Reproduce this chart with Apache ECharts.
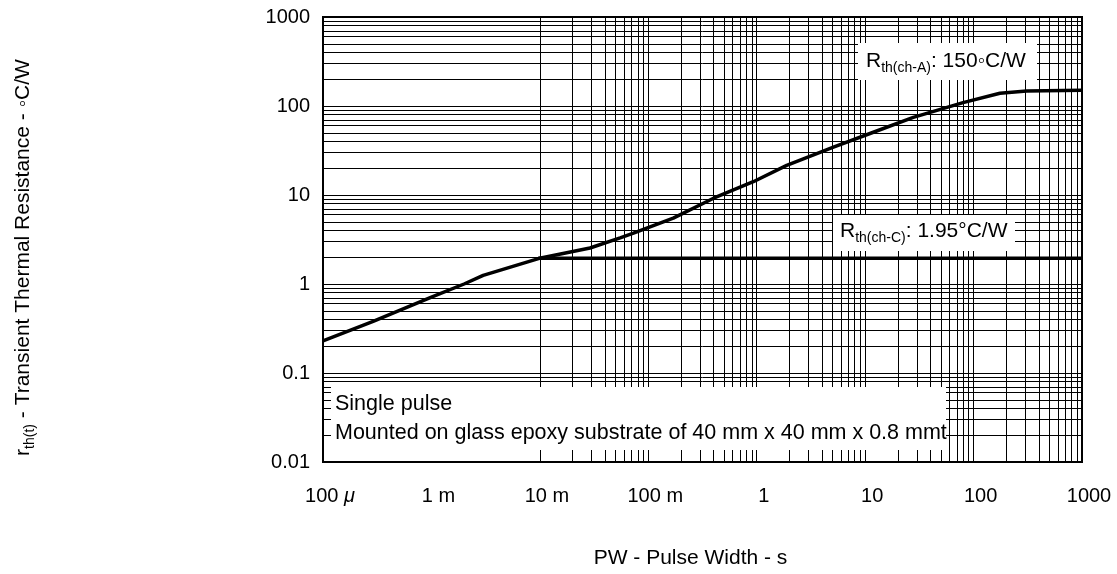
<!DOCTYPE html>
<html><head><meta charset="utf-8">
<script src="https://cdn.jsdelivr.net/npm/echarts@6/dist/echarts.min.js"></script>
<style>html,body{margin:0;padding:0;background:#fff}#c{width:1117px;height:574px}</style>
</head><body><div id="c"></div>
<script>
// ---- data ----
const pwCurve  = [1e-4, 2.9e-4, 1e-3, 2e-3, 3e-3, 9.7e-3, 0.029, 0.055, 0.073, 0.17, 0.4, 0.93, 1.89, 5.1, 11.9, 27.8, 80, 175, 309, 1000];
const rthCurve = [0.23, 0.38, 0.71, 1.0, 1.25, 1.93, 2.54, 3.3, 3.73, 5.5, 9.2, 14.1, 21.5, 34.5, 50.7, 74.5, 109, 139, 147, 150];
const pwCase   = [0.0097, 1000];
const rthCase  = [1.95, 1.95];
const xTickLabels = ['100 μ', '1 m', '10 m', '100 m', '1', '10', '100', '1000'];
const yTickLabels = ['0.01', '0.1', '1', '10', '100', '1000'];
const xMin = 1e-4, xMax = 1000, yMin = 0.01, yMax = 1000;

const FONT = "'Liberation Sans', Arial, Helvetica, sans-serif";

function gridValues(min, max) {
  const out = [];
  const e0 = Math.round(Math.log10(min)), e1 = Math.round(Math.log10(max));
  for (let e = e0; e < e1; e++) {
    for (let k = 1; k <= 9; k++) {
      if (e === e0 && k === 1) continue;
      out.push(+(k * Math.pow(10, e)).toPrecision(3));
    }
  }
  return out;
}
const gridLines = gridValues(xMin, xMax).map(v => ({ xAxis: v }))
  .concat(gridValues(yMin, yMax).map(v => ({ yAxis: v })));

const chart = echarts.init(document.getElementById('c'), null, { renderer: 'canvas' });

const subRich = (size, sub) => ({
  R: { fontSize: size, lineHeight: 28, fontFamily: FONT, color: '#000', fill: '#000' },
  s: { fontSize: sub, lineHeight: sub, verticalAlign: 'bottom', fontFamily: FONT, color: '#000', fill: '#000' }
});

const option = {
  animation: false,
  backgroundColor: '#fff',
  grid: { left: 323, top: 17, right: 35, bottom: 108, show: true, borderColor: '#000', borderWidth: 2, backgroundColor: '#fff' },
  xAxis: {
    type: 'log', logBase: 10, min: xMin, max: xMax, splitNumber: 7,
    axisLine: { show: false }, axisTick: { show: false }, splitLine: { show: false },
    axisLabel: {
      margin: 24, fontSize: 20, fontFamily: FONT, color: '#000', padding: [0, 0, 0, 14],
      formatter: v => {
        const s = xTickLabels[Math.round(Math.log10(v)) - Math.round(Math.log10(xMin))] || '';
        return s.replace('μ', '{mu|μ}');
      },
      rich: { mu: { fontStyle: 'italic', fontSize: 20, fontFamily: FONT, color: '#000' } }
    },
    name: 'PW - Pulse Width - s', nameLocation: 'middle', nameGap: 86,
    nameTextStyle: { fontSize: 21, fontFamily: FONT, color: '#000', padding: [0, 24, 0, 0] }
  },
  yAxis: {
    type: 'log', logBase: 10, min: yMin, max: yMax, splitNumber: 5,
    axisLine: { show: false }, axisTick: { show: false }, splitLine: { show: false },
    axisLabel: {
      margin: 13, fontSize: 20, fontFamily: FONT, color: '#000',
      formatter: v => yTickLabels[Math.round(Math.log10(v)) - Math.round(Math.log10(yMin))] || ''
    },
    name: '{R|r}{s|th(t)}{R| - Transient Thermal Resistance - ◦C/W}',
    nameLocation: 'middle', nameGap: 286,
    nameTextStyle: { fontSize: 21, fontFamily: FONT, color: '#000', padding: [0, 36, 0, 0], rich: subRich(21, 14) }
  },
  series: [
    {
      type: 'line', data: [], silent: true, z: 1,
      markLine: {
        silent: true, symbol: ['none', 'none'], label: { show: false },
        lineStyle: { color: '#000', width: 1, type: 'solid' },
        emphasis: { disabled: true }, animation: false,
        data: gridLines
      }
    },
    {
      type: 'line', name: 'r_th(t)', data: pwCurve.map((x, i) => [x, rthCurve[i]]),
      symbol: 'none', showSymbol: false, lineStyle: { color: '#000', width: 3.5 }, z: 5
    },
    {
      type: 'line', name: 'Rth(ch-C)', data: pwCase.map((x, i) => [x, rthCase[i]]),
      symbol: 'none', showSymbol: false, lineStyle: { color: '#000', width: 3.5 }, z: 5
    }
  ],
  graphic: [
    { type: 'rect', z: 100, shape: { x: 858, y: 43, width: 179, height: 37 }, style: { fill: '#fff' } },
    { type: 'text', z: 101, x: 866, y: 61, style: { text: '{R|R}{s|th(ch-A)}{R|: 150◦C/W}', rich: subRich(21, 14), align: 'left', verticalAlign: 'middle', fill: '#000' } },
    { type: 'rect', z: 100, shape: { x: 833, y: 215, width: 182, height: 36 }, style: { fill: '#fff' } },
    { type: 'text', z: 101, x: 840, y: 231, style: { text: '{R|R}{s|th(ch-C)}{R|: 1.95°C/W}', rich: subRich(21, 14), align: 'left', verticalAlign: 'middle', fill: '#000' } },
    { type: 'rect', z: 100, shape: { x: 331, y: 387, width: 615, height: 63 }, style: { fill: '#fff' } },
    { type: 'text', z: 101, x: 335, y: 404, style: { text: 'Single pulse', font: "21.5px 'Liberation Sans', Arial, sans-serif", fill: '#000', align: 'left', verticalAlign: 'middle' } },
    { type: 'text', z: 101, x: 335, y: 433, style: { text: 'Mounted on glass epoxy substrate of 40 mm x 40 mm x 0.8 mmt', font: "21.5px 'Liberation Sans', Arial, sans-serif", fill: '#000', align: 'left', verticalAlign: 'middle' } }
  ]
};
chart.setOption(option);
</script>
</body></html>
